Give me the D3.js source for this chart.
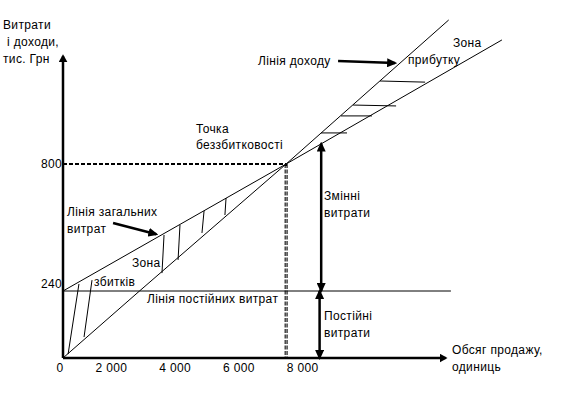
<!DOCTYPE html>
<html>
<head>
<meta charset="utf-8">
<script src="https://cdn.jsdelivr.net/npm/d3@7"></script>
<style>
  body { margin: 0; background: #fff; }
  svg text { font-family: "Liberation Sans", Arial, sans-serif; font-size: 12px; fill: #000; letter-spacing: 0.35px; }
</style>
</head>
<body>
<div id="chart"></div>
<script>
// tick values / labels
const xTicks = [0, 2000, 4000, 6000, 8000];
const xTickLabels = ["0", "2 000", "4 000", "6 000", "8 000"];
const yTicks = [240, 800];
const yTickLabels = ["240", "800"];

// lines, points are [units sold, thousand UAH]
const revenueLine = [[0, 0], [2400, 240], [7000, 800], [12100, 1435]];
const totalCostLine = [[0, 240], [7000, 800], [13770, 1347]];
const fixedCostLine = [[0, 240], [12170, 240]];
const breakEven = [7000, 800];

// hatching, [x1, y1, x2, y2]
const lossHatch = [
  [500, 271, 160, 14],
  [910, 288, 660, 75],
  [3170, 487, 3105, 319],
  [3670, 531, 3610, 377],
  [4425, 593, 4360, 496],
  [5115, 650, 5080, 575]
];
const profitHatch = [
  [9945, 1166, 11360, 1161],
  [9100, 1060, 10450, 1056],
  [8720, 1012, 9695, 1012],
  [8095, 937, 8910, 937]
];

// double arrows [x, from, to]
const variableArrow = [8100, 240, 890];
const fixedArrow = [8050, 0, 240];

// pointer arrows [x1, y1, x2, y2]
const revenuePointer = [8630, 1254, 10420, 1245];
const costPointer = [1570, 540, 2930, 490];

// where the axis arrows end
const xAxisEnd = 12000;
const yAxisEnd = 1275;

const width = 579;
const height = 394;

const svg = d3.select("#chart").append("svg")
  .attr("width", width)
  .attr("height", height);

// x is linear, y is drawn out of scale (240 and 800 are not proportional)
const x = d3.scaleLinear().domain([0, 8000]).range([63, 318]);
const y = d3.scaleLinear().domain([0, 240, 800]).range([358, 291, 164]);

const defs = svg.append("defs");
function addHead(id, len, w) {
  defs.append("marker")
    .attr("id", id)
    .attr("viewBox", `0 0 ${len} ${w}`)
    .attr("refX", len - 2)
    .attr("refY", w / 2)
    .attr("markerUnits", "userSpaceOnUse")
    .attr("markerWidth", len)
    .attr("markerHeight", w)
    .attr("orient", "auto-start-reverse")
    .append("path")
    .attr("d", `M0,0L${len},${w / 2}L0,${w}Z`)
    .attr("fill", "#000");
}
addHead("axisHead", 8, 9);
addHead("head", 10, 9);

const line = d3.line().x(d => x(d[0])).y(d => y(d[1]));

// dashed guides to break-even point
svg.append("line")
  .attr("x1", x(0)).attr("y1", y(breakEven[1]))
  .attr("x2", x(breakEven[0])).attr("y2", y(breakEven[1]))
  .attr("stroke", "#000").attr("stroke-width", 2)
  .attr("stroke-dasharray", "4,2");

const vGuide = svg.append("g");
vGuide.append("line")
  .attr("x1", x(breakEven[0])).attr("y1", y(breakEven[1]))
  .attr("x2", x(breakEven[0])).attr("y2", y(0))
  .attr("stroke", "#000").attr("stroke-width", 3)
  .attr("stroke-dasharray", "4,1.5");
vGuide.append("line")
  .attr("x1", x(breakEven[0])).attr("y1", y(breakEven[1]) + 2)
  .attr("x2", x(breakEven[0])).attr("y2", y(0))
  .attr("stroke", "#fff").attr("stroke-width", 0.8);

// main lines
[revenueLine, totalCostLine, fixedCostLine].forEach(pts => {
  svg.append("path")
    .attr("d", line(pts))
    .attr("fill", "none")
    .attr("stroke", "#000")
    .attr("stroke-width", 1);
});

// hatching of loss / profit zones
svg.selectAll(".hatch")
  .data(lossHatch.concat(profitHatch))
  .enter().append("line")
  .attr("class", "hatch")
  .attr("x1", d => x(d[0])).attr("y1", d => y(d[1]))
  .attr("x2", d => x(d[2])).attr("y2", d => y(d[3]))
  .attr("stroke", "#000")
  .attr("stroke-width", 1);

// axes
svg.append("line")
  .attr("x1", x(0)).attr("y1", y(0))
  .attr("x2", x(0)).attr("y2", y(yAxisEnd))
  .attr("stroke", "#000").attr("stroke-width", 2.5)
  .attr("marker-end", "url(#axisHead)");
svg.append("line")
  .attr("x1", x(0)).attr("y1", y(0))
  .attr("x2", x(xAxisEnd)).attr("y2", y(0))
  .attr("stroke", "#000").attr("stroke-width", 2.5)
  .attr("marker-end", "url(#axisHead)");

const xAxis = d3.axisBottom(x)
  .tickValues(xTicks)
  .tickSize(0)
  .tickPadding(5)
  .tickFormat((d, i) => xTickLabels[i]);

svg.append("g")
    .attr("transform", `translate(0, ${y(0)})`)
    .call(xAxis)
  .call(g => g.select(".domain").remove())
  .selectAll("text")
    .attr("text-anchor", "end")
    .attr("font-family", null)
    .attr("font-size", null);

const yAxis = d3.axisLeft(y)
  .tickValues(yTicks)
  .tickSize(0)
  .tickPadding(1)
  .tickFormat((d, i) => yTickLabels[i]);

svg.append("g")
    .attr("transform", `translate(${x(0)}, 0)`)
    .call(yAxis)
  .call(g => g.select(".domain").remove())
  .selectAll("text")
    .attr("font-family", null)
    .attr("font-size", null)
    .attr("y", d => d === 240 ? -4 : 0)
    .attr("dy", d => d === 240 ? 0 : "0.32em");

// double arrows for variable / fixed costs
[variableArrow, fixedArrow].forEach(a => {
  svg.append("line")
    .attr("x1", x(a[0])).attr("y1", y(a[1]))
    .attr("x2", x(a[0])).attr("y2", y(a[2]))
    .attr("stroke", "#000").attr("stroke-width", 2.5)
    .attr("marker-start", "url(#head)")
    .attr("marker-end", "url(#head)");
});

// pointer arrows to the lines
[revenuePointer, costPointer].forEach(a => {
  svg.append("line")
    .attr("x1", x(a[0])).attr("y1", y(a[1]))
    .attr("x2", x(a[2])).attr("y2", y(a[3]))
    .attr("stroke", "#000").attr("stroke-width", 2.5)
    .attr("marker-end", "url(#head)");
});

// text labels
const labels = [
  ["Витрати", 3, 29],
  ["і доходи,", 7, 46],
  ["тис. Грн", 3, 63],
  ["Лінія доходу", 258, 65],
  ["Зона", 453, 47],
  ["прибутку", 408, 64],
  ["Точка", 196, 133],
  ["беззбитковості", 196, 149],
  ["Лінія загальних", 67, 216],
  ["витрат", 67, 233],
  ["Зона", 132, 267],
  ["збитків", 94, 286],
  ["Лінія постійних витрат", 147, 303],
  ["Змінні", 324, 200],
  ["витрати", 324, 217],
  ["Постійні", 324, 320],
  ["витрати", 324, 337],
  ["Обсяг продажу,", 452, 354],
  ["одиниць", 452, 371]
];

svg.selectAll(".label")
  .data(labels)
  .enter().append("text")
  .attr("class", "label")
  .attr("x", d => d[1])
  .attr("y", d => d[2])
  .text(d => d[0]);
</script>
</body>
</html>
